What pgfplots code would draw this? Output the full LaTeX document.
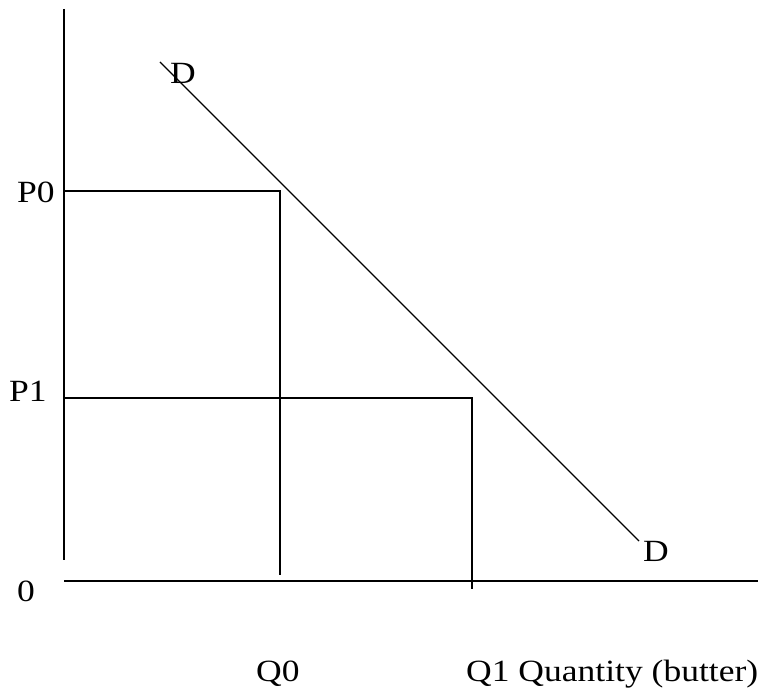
\documentclass[border=0pt]{standalone}
\usepackage{fontspec}
\setmainfont{Liberation Serif}[FakeStretch=1.15]
\usepackage{pgfplots}
\pgfplotsset{compat=1.18}
\begin{document}
\begin{tikzpicture}
\begin{axis}[name=ax,
  scale only axis, width=758bp, height=688bp,
  xmin=0, xmax=758, ymin=0, ymax=688,
  hide axis, clip=false,
  ln/.style={black, line width=1.5bp, mark=none},
]
% axes
\addplot[ln] coordinates {(64,679) (64,128)};
\addplot[ln] coordinates {(64,107) (758,107)};
% P0 / Q0
\addplot[ln] coordinates {(64,497) (280,497) (280,113)};
% P1 / Q1
\addplot[ln] coordinates {(64,290) (472,290) (472,99)};
% demand
\addplot[ln, line width=1.3bp] coordinates {(160,626) (639,147)};
\begin{scope}[every node/.style={font=\fontsize{31}{37}\selectfont, inner sep=0pt}]
\node[anchor=base west] at (axis cs:17,485) {P0};
\node[anchor=base west] at (axis cs:9,286) {P1};
\node[anchor=base west] at (axis cs:17,86) {0};
\node[anchor=base west] at (axis cs:256,6) {Q0};
\node[anchor=base west] at (axis cs:466,6) {Q1 Quantity (butter)};
\node[anchor=base west] at (axis cs:170,604) {D};
\node[anchor=base west] at (axis cs:643,126) {D};
\end{scope}
\end{axis}
\pgfresetboundingbox
\path (ax.south west) rectangle (ax.north east);
\end{tikzpicture}
\end{document}
